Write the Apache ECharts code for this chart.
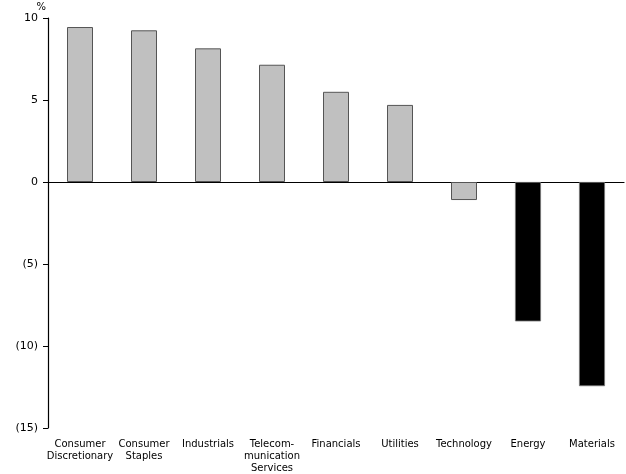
<!DOCTYPE html>
<html>
<head>
<meta charset="utf-8">
<script src="https://cdn.jsdelivr.net/npm/echarts@6/dist/echarts.min.js"></script>
<style>
  html, body { margin: 0; padding: 0; background: #fff; }
  #chart { width: 626px; height: 474px; }
</style>
</head>
<body>
<div id="chart"></div>
<script>
// Sector returns, %
const sectors = [
  'Consumer\nDiscretionary', 'Consumer\nStaples', 'Industrials',
  'Telecom-\nmunication\nServices', 'Financials', 'Utilities',
  'Technology', 'Energy', 'Materials'
];
const returns = [9.45, 9.25, 8.15, 7.15, 5.5, 4.7, -1.1, -8.5, -12.45];
// Sectors drawn in black
const highlighted = ['Energy', 'Materials'];
const yTicks = [-15, -10, -5, 0, 5, 10];

const font = 'DejaVu Sans';
const chart = echarts.init(document.getElementById('chart'), null, { renderer: 'canvas' });

chart.setOption({
  animation: false,
  backgroundColor: '#fff',
  grid: { left: 48, right: 2, top: 18, bottom: 42, containLabel: false },
  xAxis: [
    {
      type: 'category',
      data: sectors,
      axisLine: { onZero: true, lineStyle: { color: '#000', width: 1.2 } },
      axisTick: { show: false },
      axisLabel: { show: false },
      splitLine: { show: false }
    },
    {
      type: 'category',
      data: sectors,
      position: 'bottom',
      axisLine: { show: false, onZero: false },
      axisTick: { show: false },
      axisLabel: {
        show: true, interval: 0, margin: 10,
        color: '#000', fontFamily: font, fontSize: 10, lineHeight: 12, align: 'center'
      },
      splitLine: { show: false }
    }
  ],
  yAxis: {
    type: 'value',
    min: yTicks[0],
    max: yTicks[yTicks.length - 1],
    interval: 5,
    name: '%',
    nameLocation: 'end',
    nameGap: 2,
    nameTextStyle: { color: '#000', fontFamily: font, fontSize: 10, align: 'right', padding: [0, 2, -3, 0] },
    axisLine: { show: true, onZero: false, lineStyle: { color: '#000', width: 1.2 } },
    axisTick: { show: true, length: 5, inside: false, lineStyle: { color: '#000' } },
    axisLabel: {
      color: '#000', fontFamily: font, fontSize: 11, margin: 10,
      formatter: v => v < 0 ? '(' + Math.abs(v) + ')' : String(v)
    },
    splitLine: { show: false }
  },
  series: [{
    type: 'bar',
    xAxisIndex: 0,
    barWidth: 26,
    data: returns.map((v, i) => {
      const dark = highlighted.includes(sectors[i]);
      return {
        value: v,
        itemStyle: dark
          ? { color: '#000', borderColor: '#777', borderWidth: 0.8 }
          : { color: '#c0c0c0', borderColor: '#555', borderWidth: 1 }
      };
    })
  }]
});
</script>
</body>
</html>
